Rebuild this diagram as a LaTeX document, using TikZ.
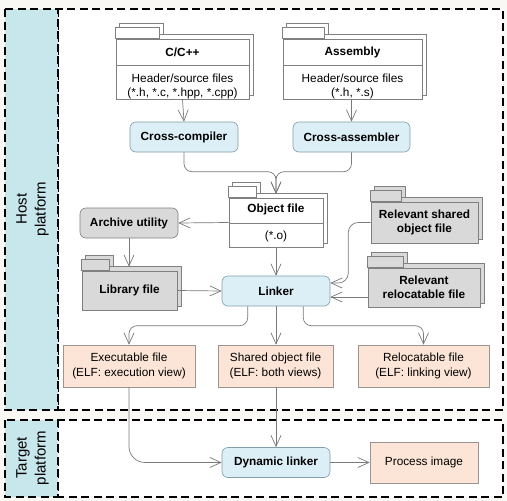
\documentclass[tikz,border=0pt]{standalone}
\usepackage{fontspec}
\setmainfont{Liberation Sans}
\usetikzlibrary{arrows.meta,positioning,backgrounds,calc}
\definecolor{PageBg}{HTML}{F9F8F5}
\definecolor{Strip}{HTML}{C8E7ED}
\definecolor{ToolFill}{HTML}{DDEFF6}
\definecolor{ToolLine}{HTML}{7F9FAA}
\definecolor{GrayFill}{HTML}{D9D9D9}
\definecolor{GrayLine}{HTML}{7F7F7F}
\definecolor{OutFill}{HTML}{FCE5D6}
\definecolor{OutLine}{HTML}{9A9590}
\definecolor{PkgLine}{HTML}{808080}
\definecolor{ArrowLine}{HTML}{7A7A7A}
\newcommand{\diagfont}{\fontsize{11.8}{14.5}\selectfont}
% stacked copy and tab behind a folder node
\newcommand{\folderdeco}[3]{%
  \begin{pgfonlayer}{background}
    \filldraw[fill=#3,draw=PkgLine,line width=0.6pt]
      ([shift={(4pt,4pt)}]#1.south west) rectangle ([shift={(4pt,4pt)}]#1.north east);
    \filldraw[fill=#3,draw=PkgLine,line width=0.6pt]
      ([shift={(4pt,4pt)}]#1.north west) rectangle ++(#2pt,11pt);
    \filldraw[fill=#3,draw=PkgLine,line width=0.6pt]
      (#1.north west) rectangle ++(#2pt,11pt);
  \end{pgfonlayer}}

\begin{document}
\begin{tikzpicture}[x=1pt,y=-1pt,
    platform/.style={draw=black,line width=1.4pt,dash pattern=on 8pt off 4.5pt},
    platlabel/.style={rotate=90,align=center,font=\fontsize{15}{19}\selectfont},
    tool/.style={rounded corners=6pt,draw=ToolLine,fill=ToolFill,line width=0.6pt,
      minimum width=108pt,minimum height=30pt,font=\diagfont\bfseries},
    pkg/.style={draw=PkgLine,fill=white,line width=0.6pt,inner sep=0pt},
    lib/.style={draw=PkgLine,fill=GrayFill,line width=0.6pt,align=center,
      font=\diagfont\bfseries},
    product/.style={draw=OutLine,fill=OutFill,line width=0.6pt,align=center,
      minimum height=42pt,font=\diagfont},
    title/.style={font=\diagfont\bfseries},
    desc/.style={align=center,font=\diagfont,inner sep=0pt},
    pkgline/.style={draw=PkgLine,line width=0.6pt},
    arr/.style={-{Straight Barb[length=11pt,width=10pt]},draw=ArrowLine,line width=0.7pt}
  ]
  \useasboundingbox (0,0) rectangle (507,501);
  \begin{pgfonlayer}{background}
    \fill[PageBg] (0,0) rectangle (507,501);
    \draw[platform,fill=white] (58,9) rectangle (503,410);
    \draw[platform,fill=Strip] (5,9) rectangle (58,410);
    \draw[platform,fill=white] (58,420) rectangle (503,497);
    \draw[platform,fill=Strip] (5,420) rectangle (58,497);
  \end{pgfonlayer}
  \node[platlabel] (host) at (32.5,209) {Host\\platform};
  \node[platlabel] (target) at (32.5,458) {Target\\platform};

  % source packages
  \node[pkg,minimum width=133pt,minimum height=60pt] (cpp) at (182.5,69) {};
  \folderdeco{cpp}{44}{white}
  \draw[pkgline] ([yshift=-27pt]cpp.north west) -- ([yshift=-27pt]cpp.north east);
  \node[title] (cpp-t) at ([yshift=-14pt]cpp.north) {C/C++};
  \node[desc] (cpp-d) at ([yshift=13pt]cpp.south) {Header/source files\\(*.h, *.c, *.hpp, *.cpp)};

  \node[pkg,minimum width=139pt,minimum height=60pt] (asm) at (352.5,69) {};
  \folderdeco{asm}{42}{white}
  \draw[pkgline] ([yshift=-27pt]asm.north west) -- ([yshift=-27pt]asm.north east);
  \node[title] (asm-t) at ([yshift=-14pt]asm.north) {Assembly};
  \node[desc] (asm-d) at ([yshift=13pt]asm.south) {Header/source files\\(*.h, *.s)};

  % tools
  \node[tool] (cc) at (184,137) {Cross-compiler};
  \node[tool,minimum width=117pt] (ca) at (351.5,137) {Cross-assembler};
  \node[tool,fill=GrayFill,draw=GrayLine,minimum width=98pt] (ar) at (129,223) {Archive utility};
  \node[tool] (lk) at (276,291) {Linker};
  \node[tool] (dl) at (276,462.5) {Dynamic linker};

  % object file
  \node[pkg,minimum width=94pt,minimum height=49pt] (obj) at (276,222.5) {};
  \folderdeco{obj}{28}{white}
  \draw[pkgline] ([yshift=-26pt]obj.north west) -- ([yshift=-26pt]obj.north east);
  \node[title] (obj-t) at ([yshift=-12pt]obj.north) {Object file};
  \node[desc] (obj-d) at ([yshift=11pt]obj.south) {(*.o)};

  % libraries
  \node[lib,minimum width=95pt,minimum height=39pt] (lib) at (129.5,290.5) {Library file};
  \folderdeco{lib}{28}{GrayFill}
  \node[lib,minimum width=107pt,minimum height=41pt] (rso) at (424.5,222.5) {Relevant shared\\object file};
  \folderdeco{rso}{31}{GrayFill}
  \node[lib,minimum width=112pt,minimum height=39pt] (rrf) at (424,287.5) {Relevant\\relocatable file};
  \folderdeco{rrf}{36}{GrayFill}

  % outputs
  \node[product,minimum width=132pt] (exe) at (129,366) {Executable file\\(ELF: execution view)};
  \node[product,minimum width=115pt] (so) at (275.5,366) {Shared object file\\(ELF: both views)};
  \node[product,minimum width=131pt] (rel) at (423.5,366) {Relocatable file\\(ELF: linking view)};
  \node[product,minimum width=108pt,minimum height=41pt] (img) at (424,462.5) {Process image};

  % connectors
  \coordinate (objin) at ([yshift=4pt]obj.north);
  \coordinate (libin) at ([yshift=4pt]lib.north);
  \draw[arr] (cpp.south) -- (cc.north);
  \draw[arr] (asm.south -| ca.north) -- (ca.north);
  \draw[arr,rounded corners=8pt] (cc.south) |- ([yshift=22pt]objin) -- (objin);
  \draw[arr,rounded corners=8pt] (ca.south) |- ([yshift=22pt]objin) -- (objin);
  \draw[arr] (obj.west) -- (ar.east);
  \draw[arr] (ar.south) -- (ar.south |- libin);
  \draw[arr] (lib.east) -- (lk.west);
  \draw[arr] (obj.south) -- (lk.north);
  \draw[arr,rounded corners=10pt] (rso.west) -| ([xshift=18pt,yshift=8pt]lk.east) -- ([yshift=8pt]lk.east);
  \coordinate (lkr) at ([yshift=-6pt]lk.east);
  \draw[arr] (rrf.west |- lkr) -- (lkr);
  \draw[arr] (lk.south) -- (lk.south |- so.north);
  \draw[arr,rounded corners=8pt] ([xshift=26pt]lk.south west) |- ([yshift=19pt]exe.north) -- (exe.north);
  \draw[arr,rounded corners=8pt] ([xshift=-27pt]lk.south east) |- ([yshift=19pt]rel.north) -- (rel.north);
  \draw[arr,rounded corners=16pt] (exe.south) |- (dl.west);
  \draw[arr] (so.south -| dl.north) -- (dl.north);
  \draw[arr] (dl.east) -- (img.west);
\end{tikzpicture}
\end{document}
